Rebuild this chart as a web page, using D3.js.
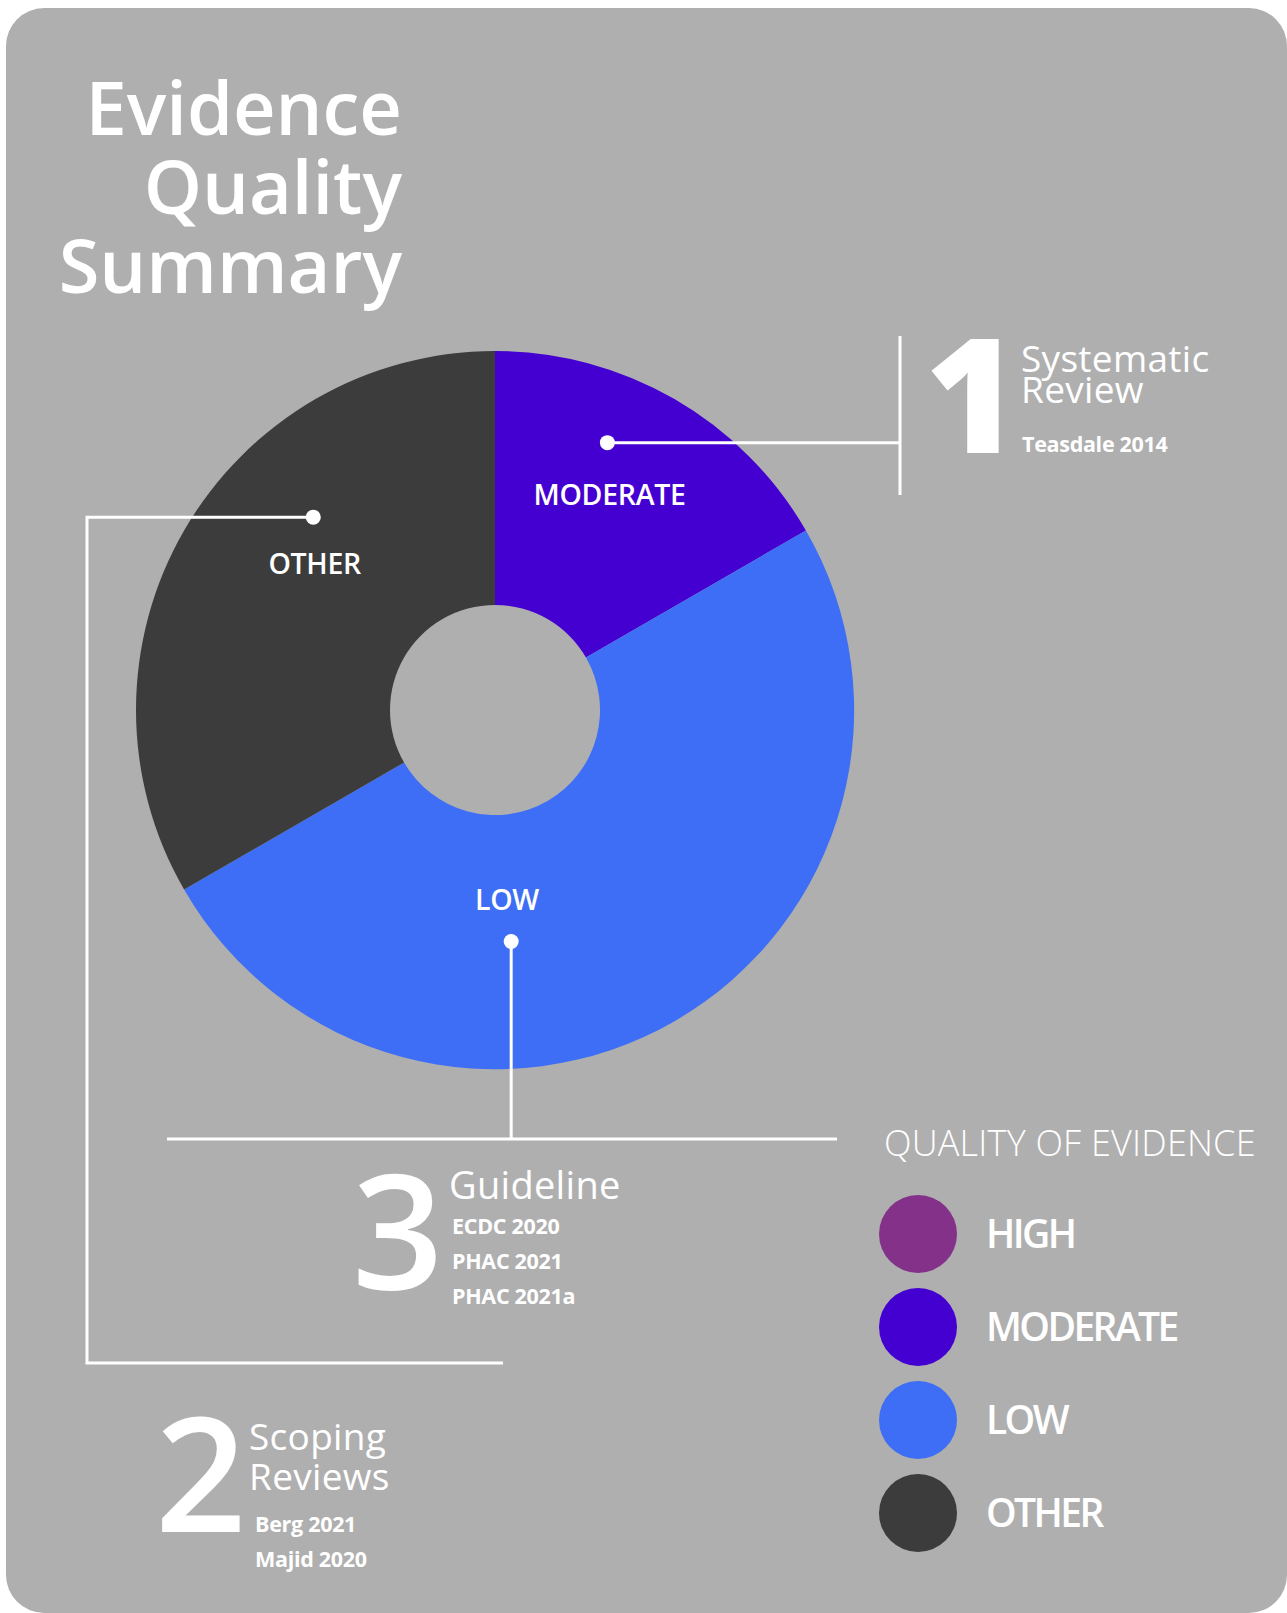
<!DOCTYPE html>
<html>
<head>
<meta charset="utf-8">
<script src="https://cdn.jsdelivr.net/npm/d3@7"></script>
<style>
  html, body { margin: 0; padding: 0; background: #ffffff; }
  svg { display: block; }
  text { font-family: "Open Sans", "Noto Sans", sans-serif; fill: #ffffff; }
</style>
</head>
<body>
<svg id="chart" width="1287" height="1613"></svg>
<script>
/* eslint-env browser */
// quality categories and how many studies fall in each
const categories = ['HIGH', 'MODERATE', 'LOW', 'OTHER'];
const counts = [0, 1, 3, 2];

// study types with their references
const titleLines = ['Evidence', 'Quality', 'Summary'];
const systematicLines = ['Systematic', 'Review'];
const systematicRefs = ['Teasdale 2014'];
const guidelineLines = ['Guideline'];
const guidelineRefs = ['ECDC 2020', 'PHAC 2021', 'PHAC 2021a'];
const scopingLines = ['Scoping', 'Reviews'];
const scopingRefs = ['Berg 2021', 'Majid 2020'];
const legendTitle = 'QUALITY OF EVIDENCE';

/**
 * Layout and palette
 */
const cs = {
  palette: {
    bg: '#afafaf',
    line: '#ffffff',
    slices: ['#84318a', '#4400d1', '#3d6ef5', '#3c3c3c'],
  },
  pie: { cx: 495, cy: 710, outer: 359, inner: 105 },
  // label / dot placement per slice, as [angle in degrees, radius]
  callouts: {
    MODERATE: { label: [28, 244], dot: [22.8, 290] },
    LOW: { label: [176.4, 190], dot: [176, 232] },
    OTHER: { label: [309, 232], dot: [316.7, 265] },
  },
};

const svg = d3.select('#chart');

svg.append('rect')
  .attr('x', 6).attr('y', 8)
  .attr('width', 1281).attr('height', 1605)
  .attr('rx', 38).attr('ry', 38)
  .attr('fill', cs.palette.bg);

// title, one text with a line per tspan
svg.append('text')
  .attr('text-anchor', 'end')
  .attr('font-size', 74)
  .attr('font-weight', 600)
  .selectAll('tspan')
  .data(titleLines)
  .join('tspan')
  .attr('x', 402)
  .attr('y', (d, i) => 135 + i * 79)
  .text(d => d);

// donut
const data = categories.map((c, i) => ({ cat: c, count: counts[i] }));
const color = d3.scaleOrdinal().domain(categories).range(cs.palette.slices);
const pie = d3.pie().sort(null).value(d => d.count);
const arc = d3.arc().innerRadius(cs.pie.inner).outerRadius(cs.pie.outer);
const arcs = pie(data);

const g = svg.append('g')
  .attr('transform', `translate(${cs.pie.cx},${cs.pie.cy})`);

g.selectAll('path')
  .data(arcs.filter(a => a.data.count > 0))
  .join('path')
  .attr('d', arc)
  .attr('fill', d => color(d.data.cat));

const toXY = ([deg, r]) => {
  const p = d3.pointRadial(deg * Math.PI / 180, r);
  return [cs.pie.cx + p[0], cs.pie.cy + p[1]];
};

// leader lines
const lines = svg.append('g')
  .attr('fill', 'none')
  .attr('stroke', cs.palette.line)
  .attr('stroke-width', 3);

const mDot = toXY(cs.callouts.MODERATE.dot);
const lDot = toXY(cs.callouts.LOW.dot);
const oDot = toXY(cs.callouts.OTHER.dot);

lines.append('path').attr('d', d3.line()([mDot, [900, mDot[1]]]));
lines.append('path').attr('d', d3.line()([[900, 336], [900, 495]]));
lines.append('path').attr('d', d3.line()([lDot, [lDot[0], 1139]]));
lines.append('path').attr('d', d3.line()([[167, 1139], [837, 1139]]));
lines.append('path').attr('d', d3.line()([oDot, [87, oDot[1]], [87, 1363], [503, 1363]]));

svg.append('g').selectAll('circle')
  .data([mDot, lDot, oDot])
  .join('circle')
  .attr('cx', d => d[0]).attr('cy', d => d[1])
  .attr('r', 7.5)
  .attr('fill', cs.palette.line);

// slice labels
svg.append('g').selectAll('text')
  .data(arcs.filter(a => cs.callouts[a.data.cat]))
  .join('text')
  .attr('x', d => toXY(cs.callouts[d.data.cat].label)[0])
  .attr('y', d => toXY(cs.callouts[d.data.cat].label)[1])
  .attr('dy', '0.36em')
  .attr('text-anchor', 'middle')
  .attr('font-size', 28.5)
  .attr('font-weight', 600)
  .attr('letter-spacing', -0.3)
  .text(d => d.data.cat);

/**
 * Draws one study-type block: big count, heading lines and references
 */
const block = (o) => {
  const b = svg.append('g');
  b.append('text')
    .attr('x', o.numX).attr('y', o.numY)
    .attr('font-size', 160)
    .attr('font-weight', o.numWeight)
    .attr('letter-spacing', -4)
    .text(o.refs.length);
  b.append('text')
    .attr('font-size', o.headSize)
    .attr('letter-spacing', 0.3)
    .selectAll('tspan')
    .data(o.lines)
    .join('tspan')
    .attr('x', o.textX)
    .attr('y', (d, i) => o.headY + i * o.headStep)
    .text(d => d);
  b.append('text')
    .attr('font-size', 21.5)
    .attr('font-weight', 700)
    .attr('letter-spacing', -0.3)
    .selectAll('tspan')
    .data(o.refs)
    .join('tspan')
    .attr('x', o.refX)
    .attr('y', (d, i) => o.refY + i * 35)
    .text(d => d);
};

block({
  refs: systematicRefs, lines: systematicLines, numWeight: 800, headSize: 37,
  numX: 925, numY: 453, textX: 1021, headY: 372, headStep: 31, refX: 1022, refY: 452,
});
block({
  refs: guidelineRefs, lines: guidelineLines, numWeight: 600, headSize: 38,
  numX: 352, numY: 1289, textX: 449, headY: 1199, headStep: 31, refX: 452, refY: 1234,
});
block({
  refs: scopingRefs, lines: scopingLines, numWeight: 600, headSize: 37,
  numX: 155, numY: 1532, textX: 249, headY: 1450, headStep: 40, refX: 255, refY: 1532,
});

// legend
const legend = svg.append('g');
legend.append('text')
  .attr('x', 884).attr('y', 1156)
  .attr('font-size', 36)
  .attr('font-weight', 300)
  .attr('letter-spacing', 0.2)
  .text(legendTitle);

const items = legend.selectAll('g.item')
  .data(categories)
  .join('g')
  .attr('class', 'item')
  .attr('transform', (d, i) => `translate(918,${1234 + i * 93})`);

items.append('circle')
  .attr('r', 39)
  .attr('fill', d => color(d));

items.append('text')
  .attr('x', 68)
  .attr('dy', '0.36em')
  .attr('font-size', 39)
  .attr('font-weight', 600)
  .attr('letter-spacing', -2.6)
  .text(d => d);
</script>
</body>
</html>
